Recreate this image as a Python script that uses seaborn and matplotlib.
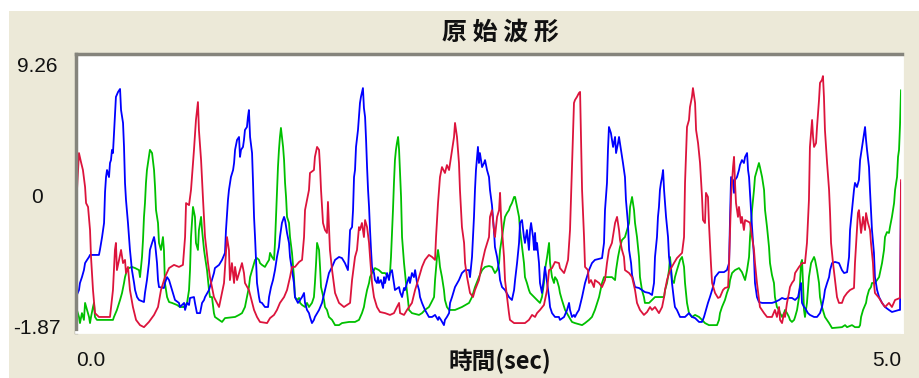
import matplotlib
matplotlib.use("Agg")
import pandas as pd
import matplotlib.pyplot as plt
import seaborn as sns
from matplotlib.patches import Rectangle

# --- data (time in sec, amplitude) ---
red_t = [
    0.000, 0.006, 0.018, 0.030, 0.042, 0.055, 0.061, 0.073, 0.085, 0.091,
    0.103, 0.115, 0.139, 0.206, 0.224, 0.236, 0.242, 0.248, 0.261, 0.273,
    0.285, 0.297, 0.303, 0.315, 0.327, 0.345, 0.364, 0.388, 0.412, 0.442,
    0.473, 0.497, 0.515, 0.539, 0.564, 0.594, 0.624, 0.648, 0.661, 0.667,
    0.685, 0.697, 0.715, 0.727, 0.739, 0.745, 0.758, 0.770, 0.782, 0.800,
    0.812, 0.836, 0.867, 0.897, 0.915, 0.927, 0.933, 0.945, 0.958, 0.964,
    0.976, 0.994, 1.006, 1.018, 1.024, 1.048, 1.079, 1.097, 1.115, 1.158,
    1.176, 1.200, 1.218, 1.236, 1.261, 1.279, 1.297, 1.309, 1.327, 1.352,
    1.370, 1.382, 1.388, 1.412, 1.418, 1.442, 1.448, 1.461, 1.473, 1.479,
    1.485, 1.497, 1.509, 1.521, 1.527, 1.533, 1.539, 1.552, 1.570, 1.594,
    1.624, 1.661, 1.673, 1.691, 1.703, 1.715, 1.721, 1.733, 1.745, 1.752,
    1.764, 1.776, 1.782, 1.794, 1.806, 1.824, 1.842, 1.873, 1.903, 1.927,
    1.945, 1.958, 1.964, 1.988, 2.006, 2.036, 2.055, 2.079, 2.097, 2.115,
    2.139, 2.158, 2.176, 2.182, 2.194, 2.206, 2.218, 2.236, 2.248, 2.261,
    2.273, 2.291, 2.297, 2.309, 2.321, 2.327, 2.339, 2.352, 2.358, 2.370,
    2.388, 2.406, 2.418, 2.442, 2.461, 2.479, 2.503, 2.509, 2.521, 2.533,
    2.539, 2.552, 2.564, 2.570, 2.576, 2.588, 2.594, 2.600, 2.612, 2.624,
    2.630, 2.655, 2.721, 2.745, 2.764, 2.782, 2.794, 2.812, 2.836, 2.855,
    2.867, 2.885, 2.903, 2.927, 2.933, 2.958, 2.964, 2.982, 2.994, 3.006,
    3.018, 3.024, 3.036, 3.048, 3.055, 3.061, 3.067, 3.079, 3.085, 3.103,
    3.109, 3.121, 3.139, 3.145, 3.170, 3.188, 3.206, 3.218, 3.230, 3.248,
    3.267, 3.279, 3.291, 3.297, 3.309, 3.321, 3.327, 3.352, 3.370, 3.388,
    3.400, 3.418, 3.442, 3.461, 3.479, 3.491, 3.509, 3.533, 3.552, 3.564,
    3.570, 3.582, 3.600, 3.624, 3.642, 3.661, 3.673, 3.685, 3.691, 3.703,
    3.715, 3.721, 3.733, 3.739, 3.752, 3.758, 3.770, 3.782, 3.794, 3.800,
    3.812, 3.818, 3.830, 3.836, 3.848, 3.855, 3.873, 3.891, 3.903, 3.921,
    3.933, 3.952, 3.958, 3.970, 3.982, 3.988, 3.994, 4.000, 4.012, 4.018,
    4.030, 4.036, 4.048, 4.055, 4.079, 4.085, 4.097, 4.109, 4.115, 4.127,
    4.145, 4.170, 4.188, 4.218, 4.236, 4.248, 4.261, 4.267, 4.279, 4.291,
    4.297, 4.309, 4.321, 4.327, 4.339, 4.352, 4.358, 4.382, 4.400, 4.418,
    4.430, 4.442, 4.448, 4.461, 4.467, 4.473, 4.485, 4.491, 4.503, 4.509,
    4.521, 4.527, 4.533, 4.539, 4.552, 4.564, 4.570, 4.576, 4.588, 4.600,
    4.612, 4.624, 4.642, 4.655, 4.673, 4.691, 4.715, 4.721, 4.739, 4.745,
    4.758, 4.770, 4.782, 4.788, 4.800, 4.812, 4.818, 4.830, 4.836, 4.842,
    4.867, 4.885, 4.903, 4.927, 4.945, 4.964, 4.994, 5.000,
]
red_v = [
    0.92, 4.23, 5.86, 5.47, 5.11, 4.36, 3.65, 3.48, 2.46, 1.27,
    -0.19, -1.21, -1.38, -1.38, -0.19, 1.58, 1.89, 0.69, 1.14, 1.58,
    1.00, 1.14, 0.56, 0.83, -0.19, -0.94, -1.51, -1.74, -1.83, -1.60,
    -1.29, -0.94, -0.19, 0.38, 0.78, 0.92, 0.83, 0.92, 2.15, 3.65,
    3.56, 4.23, 6.00, 7.32, 8.11, 6.88, 5.55, 3.79, 2.15, 1.00,
    0.38, -0.50, -0.94, 0.12, 2.15, 1.58, 0.25, 1.00, 0.12, 0.83,
    0.25, 0.69, 1.00, 0.56, 0.12, -0.19, -1.07, -1.38, -1.60, -1.65,
    -1.43, -1.29, -1.07, -0.76, -0.50, -0.19, 0.38, 0.83, 0.83, 1.05,
    1.14, 2.15, 3.34, 4.23, 4.98, 5.11, 5.69, 6.13, 6.00, 5.24,
    4.23, 2.77, 2.46, 2.33, 3.70, 2.59, 1.58, 0.69, -0.32, -0.76,
    -0.94, -0.76, 0.25, 1.27, 1.58, 2.59, 2.46, 2.77, 2.15, 2.90,
    2.59, 1.89, 1.27, 0.12, -0.50, -0.94, -1.16, -1.21, -1.29, -1.21,
    -0.94, -0.76, -1.21, -1.29, -1.07, -0.76, -0.19, 0.38, 0.83, 1.14,
    1.36, 1.27, 1.14, 2.15, 3.65, 4.80, 5.24, 4.98, 5.33, 5.11,
    5.69, 6.57, 7.19, 6.57, 5.42, 4.23, 2.59, 1.89, 1.00, 0.38,
    -0.32, -0.50, -0.19, 0.25, 1.00, 1.58, 2.15, 3.04, 3.34, 2.46,
    2.15, 3.04, 3.34, 4.10, 3.04, 1.89, 1.27, 0.25, -0.50, -1.21,
    -1.51, -1.65, -1.65, -1.51, -1.29, -1.38, -1.21, -1.07, -0.85, -0.19,
    0.69, 0.78, 1.05, 1.00, 0.78, 0.56, 0.69, 1.14, 2.46, 5.24,
    8.07, 8.20, 8.34, 8.51, 8.56, 6.44, 4.23, 2.15, 0.83, 0.69,
    0.12, 0.25, -0.06, 0.25, 0.12, -0.06, 0.25, 1.00, 1.58, 1.89,
    2.77, 3.04, 2.46, 2.02, 1.58, 1.27, 0.69, 0.56, 0.38, -0.19,
    -0.76, -1.07, -1.29, -1.16, -0.94, -1.07, -0.94, -1.21, -0.94, -0.50,
    -0.19, 0.25, 0.69, 1.00, 1.22, 1.36, 1.45, 2.15, 4.54, 7.01,
    7.32, 7.89, 8.34, 8.73, 8.07, 6.88, 6.30, 5.42, 3.92, 2.90,
    2.77, 4.10, 3.92, 2.77, 1.00, 0.12, -0.32, -0.54, -0.50, -0.19,
    -0.10, -0.06, 1.00, 3.92, 5.24, 5.69, 4.54, 3.65, 3.04, 3.48,
    2.77, 3.04, 2.46, 2.90, 2.81, 2.77, 2.15, 1.58, 1.00, 0.12,
    -0.94, -1.21, -1.38, -1.38, -1.07, -1.38, -0.94, -1.51, -1.65, -1.21,
    -1.38, -0.76, -0.32, -0.06, 0.12, 0.25, 0.56, 0.83, 1.00, 1.00,
    1.89, 3.79, 6.13, 7.32, 6.57, 6.13, 6.30, 7.01, 8.20, 8.96,
    9.09, 9.26, 8.34, 6.88, 5.42, 4.23, 3.21, 1.89, 1.00, 0.25,
    -0.50, -0.76, -0.76, -0.50, -0.32, -0.19, -0.10, 1.00, 3.21, 3.34,
    2.33, 3.04, 2.46, 3.21, 2.77, 2.46, 1.89, 1.00, 0.12, -0.32,
    -0.54, -0.76, -0.94, -0.76, -0.94, -0.63, -0.54, 4.67,
]

blue_t = [
    0.000, 0.018, 0.024, 0.036, 0.048, 0.055, 0.067, 0.079, 0.085, 0.139,
    0.145, 0.158, 0.170, 0.176, 0.182, 0.188, 0.200, 0.206, 0.212, 0.218,
    0.224, 0.230, 0.236, 0.242, 0.255, 0.267, 0.273, 0.285, 0.291, 0.297,
    0.303, 0.315, 0.321, 0.327, 0.339, 0.352, 0.358, 0.370, 0.382, 0.412,
    0.418, 0.430, 0.442, 0.448, 0.461, 0.473, 0.479, 0.491, 0.497, 0.503,
    0.533, 0.539, 0.552, 0.564, 0.582, 0.600, 0.624, 0.630, 0.655, 0.661,
    0.673, 0.685, 0.691, 0.715, 0.721, 0.733, 0.752, 0.764, 0.776, 0.782,
    0.806, 0.824, 0.836, 0.842, 0.867, 0.885, 0.903, 0.909, 0.921, 0.927,
    0.939, 0.952, 0.958, 0.964, 0.976, 0.988, 0.994, 1.000, 1.012, 1.018,
    1.024, 1.036, 1.042, 1.048, 1.055, 1.067, 1.073, 1.079, 1.085, 1.091,
    1.097, 1.109, 1.115, 1.127, 1.145, 1.164, 1.170, 1.182, 1.194, 1.206,
    1.218, 1.230, 1.236, 1.248, 1.261, 1.267, 1.279, 1.291, 1.297, 1.309,
    1.321, 1.327, 1.345, 1.358, 1.370, 1.382, 1.388, 1.400, 1.412, 1.418,
    1.430, 1.442, 1.448, 1.473, 1.491, 1.509, 1.533, 1.552, 1.570, 1.594,
    1.612, 1.630, 1.648, 1.655, 1.661, 1.673, 1.679, 1.685, 1.691, 1.697,
    1.709, 1.715, 1.721, 1.727, 1.739, 1.745, 1.752, 1.758, 1.764, 1.770,
    1.776, 1.782, 1.788, 1.794, 1.806, 1.812, 1.824, 1.830, 1.836, 1.848,
    1.861, 1.867, 1.873, 1.885, 1.897, 1.903, 1.915, 1.927, 1.933, 1.958,
    1.964, 1.976, 1.988, 1.994, 2.006, 2.018, 2.024, 2.036, 2.048, 2.055,
    2.067, 2.079, 2.085, 2.097, 2.115, 2.139, 2.158, 2.176, 2.194, 2.200,
    2.212, 2.230, 2.236, 2.248, 2.261, 2.267, 2.279, 2.297, 2.321, 2.339,
    2.358, 2.382, 2.388, 2.400, 2.412, 2.418, 2.424, 2.436, 2.442, 2.448,
    2.461, 2.473, 2.479, 2.491, 2.503, 2.509, 2.521, 2.533, 2.539, 2.552,
    2.564, 2.570, 2.582, 2.600, 2.624, 2.642, 2.655, 2.661, 2.673, 2.685,
    2.691, 2.703, 2.715, 2.721, 2.733, 2.745, 2.752, 2.758, 2.770, 2.776,
    2.782, 2.788, 2.794, 2.806, 2.812, 2.824, 2.836, 2.842, 2.855, 2.867,
    2.873, 2.885, 2.903, 2.927, 2.933, 2.958, 2.976, 2.988, 2.994, 3.006,
    3.018, 3.024, 3.036, 3.048, 3.067, 3.085, 3.109, 3.127, 3.145, 3.188,
    3.200, 3.206, 3.218, 3.224, 3.230, 3.242, 3.255, 3.267, 3.273, 3.285,
    3.291, 3.303, 3.315, 3.327, 3.333, 3.345, 3.352, 3.364, 3.370, 3.382,
    3.388, 3.412, 3.430, 3.448, 3.473, 3.491, 3.503, 3.509, 3.521, 3.527,
    3.533, 3.539, 3.545, 3.552, 3.558, 3.564, 3.570, 3.576, 3.588, 3.594,
    3.606, 3.612, 3.624, 3.630, 3.642, 3.661, 3.691, 3.715, 3.733, 3.752,
    3.776, 3.794, 3.806, 3.818, 3.830, 3.842, 3.855, 3.867, 3.873, 3.897,
    3.927, 3.945, 3.958, 3.964, 3.970, 3.982, 3.988, 3.994, 4.006, 4.018,
    4.024, 4.036, 4.048, 4.055, 4.067, 4.073, 4.079, 4.091, 4.097, 4.109,
    4.115, 4.127, 4.139, 4.158, 4.218, 4.236, 4.261, 4.279, 4.297, 4.321,
    4.339, 4.358, 4.376, 4.388, 4.394, 4.400, 4.412, 4.418, 4.436, 4.448,
    4.473, 4.491, 4.509, 4.521, 4.533, 4.539, 4.552, 4.564, 4.570, 4.582,
    4.600, 4.624, 4.642, 4.655, 4.673, 4.685, 4.691, 4.703, 4.715, 4.721,
    4.733, 4.745, 4.752, 4.764, 4.776, 4.782, 4.788, 4.794, 4.806, 4.812,
    4.824, 4.836, 4.842, 4.855, 4.867, 4.885, 4.903, 4.927, 4.945, 4.988,
    4.994, 5.000,
]
blue_v = [
    -0.50, -0.19, 0.12, 0.38, 0.69, 1.00, 1.14, 1.27, 1.36, 1.36,
    1.58, 2.15, 2.77, 4.14, 4.80, 5.11, 4.80, 5.42, 5.55, 6.00,
    5.86, 6.66, 7.45, 8.34, 8.56, 8.69, 7.76, 7.19, 6.13, 4.54,
    3.79, 2.77, 2.15, 1.58, 0.69, 0.12, -0.19, -0.50, -0.63, -0.72,
    -0.32, 0.25, 1.00, 1.58, 1.89, 2.15, 1.89, 1.00, 0.25, -0.06,
    -0.10, 0.12, 0.38, 0.25, -0.19, -0.63, -0.76, -0.94, -0.76, -1.07,
    -0.76, -0.85, -0.54, -0.50, -0.76, -1.21, -1.21, -0.76, -0.63, -0.50,
    -0.19, 0.25, 0.56, 0.78, 0.92, 1.14, 1.45, 2.46, 3.79, 4.23,
    4.80, 5.11, 5.42, 6.00, 6.44, 6.57, 5.69, 6.00, 6.13, 6.44,
    6.88, 7.01, 7.45, 7.76, 6.57, 5.86, 4.54, 3.04, 2.15, 1.14,
    0.12, -0.50, -0.72, -0.76, -0.94, -0.94, -0.50, -0.06, 0.25, 0.69,
    1.27, 1.71, 2.15, 2.77, 3.04, 2.90, 2.33, 1.89, 1.27, 0.69,
    0.12, -0.50, -0.76, -0.63, -0.50, -0.32, -0.76, -1.07, -1.21, -1.38,
    -1.65, -1.51, -1.38, -1.07, -0.76, -0.19, 0.56, 0.83, 1.14, 1.27,
    1.22, 1.00, 0.69, 1.58, 2.46, 2.59, 3.34, 4.80, 5.11, 6.13,
    6.88, 7.45, 8.07, 8.34, 8.73, 7.85, 7.45, 6.44, 5.24, 4.23,
    3.48, 2.46, 1.58, 0.83, 0.56, 0.25, 0.12, 0.38, 0.12, 0.25,
    -0.10, 0.38, 0.12, 0.56, 0.25, 0.56, 0.69, 0.12, -0.19, -0.06,
    -0.28, -0.50, -0.10, -0.19, 0.12, 0.38, 0.12, 0.56, 0.38, 0.69,
    0.12, -0.19, -0.50, -0.76, -1.07, -1.38, -1.38, -1.29, -1.51, -1.38,
    -1.51, -1.74, -1.51, -1.38, -1.21, -0.76, -0.50, -0.06, 0.25, 0.56,
    0.69, 0.69, 0.38, 1.27, 3.04, 4.23, 5.11, 6.13, 5.42, 5.86,
    5.24, 5.42, 5.55, 5.11, 4.80, 4.23, 3.56, 2.46, 1.71, 1.27,
    0.69, 0.25, -0.06, -0.19, -0.50, -0.63, -0.19, 0.25, 1.00, 1.89,
    2.77, 2.90, 2.15, 1.89, 2.46, 1.58, 2.46, 2.77, 2.15, 1.58,
    2.33, 1.58, 1.89, 1.00, 0.12, -0.32, 0.38, 0.83, 0.12, -0.50,
    -0.94, -1.21, -1.38, -1.38, -1.51, -1.38, -1.07, -0.76, -1.07, -1.38,
    -1.29, -1.38, -1.21, -1.07, -0.50, 0.12, 0.69, 1.00, 1.14, 1.22,
    1.89, 3.34, 4.54, 6.00, 7.01, 6.74, 6.13, 6.57, 5.86, 6.30,
    6.57, 6.00, 5.42, 4.80, 3.79, 2.77, 1.58, 1.00, 0.47, 0.12,
    -0.06, -0.10, -0.19, -0.28, -0.32, -0.41, 0.12, 1.27, 2.15, 3.04,
    3.48, 4.23, 4.54, 4.80, 5.11, 4.23, 3.65, 3.04, 2.15, 1.27,
    0.69, 0.12, -0.63, -0.94, -1.07, -1.38, -1.38, -1.21, -1.38, -1.43,
    -1.60, -1.60, -1.38, -1.07, -0.76, -0.50, -0.19, 0.12, 0.38, 0.60,
    0.60, 0.69, 1.00, 3.04, 4.80, 4.67, 4.10, 4.67, 4.80, 5.11,
    5.33, 5.55, 5.42, 5.69, 5.86, 5.11, 4.80, 3.34, 2.59, 1.27,
    0.12, -0.50, -0.72, -0.76, -0.76, -0.72, -0.63, -0.54, -0.59, -0.54,
    -0.54, -0.63, -0.50, -0.06, 0.12, -0.76, -0.94, -0.98, -1.21, -1.29,
    -1.38, -1.38, -1.21, -0.94, -0.50, -0.19, 0.12, 0.38, 0.69, 1.00,
    1.05, 1.00, 0.69, 0.56, 0.60, 1.27, 2.46, 3.34, 4.23, 4.54,
    4.36, 4.67, 5.55, 6.13, 6.74, 7.01, 6.44, 6.00, 5.24, 4.23,
    2.46, 1.45, 0.38, -0.19, -0.50, -0.76, -0.94, -1.07, -1.16, -1.07,
    -1.07, 4.54,
]

green_t = [
    0.000, 0.018, 0.024, 0.036, 0.048, 0.055, 0.067, 0.079, 0.085, 0.091,
    0.103, 0.109, 0.115, 0.127, 0.224, 0.230, 0.248, 0.267, 0.279, 0.291,
    0.297, 0.309, 0.321, 0.339, 0.358, 0.382, 0.388, 0.400, 0.406, 0.412,
    0.418, 0.424, 0.430, 0.442, 0.448, 0.461, 0.473, 0.479, 0.485, 0.497,
    0.503, 0.515, 0.527, 0.533, 0.539, 0.552, 0.564, 0.582, 0.612, 0.630,
    0.655, 0.673, 0.685, 0.691, 0.697, 0.709, 0.721, 0.727, 0.739, 0.745,
    0.758, 0.764, 0.776, 0.782, 0.794, 0.806, 0.812, 0.824, 0.836, 0.842,
    0.867, 0.885, 0.903, 0.964, 0.988, 1.006, 1.024, 1.036, 1.048, 1.055,
    1.067, 1.079, 1.085, 1.097, 1.109, 1.115, 1.127, 1.145, 1.158, 1.170,
    1.176, 1.188, 1.200, 1.206, 1.212, 1.218, 1.224, 1.230, 1.236, 1.242,
    1.255, 1.261, 1.267, 1.273, 1.279, 1.291, 1.297, 1.309, 1.321, 1.327,
    1.339, 1.352, 1.358, 1.370, 1.388, 1.400, 1.412, 1.430, 1.442, 1.448,
    1.455, 1.461, 1.473, 1.479, 1.485, 1.503, 1.509, 1.521, 1.533, 1.552,
    1.570, 1.594, 1.612, 1.655, 1.691, 1.715, 1.733, 1.745, 1.752, 1.764,
    1.776, 1.782, 1.794, 1.806, 1.812, 1.836, 1.855, 1.873, 1.897, 1.903,
    1.909, 1.921, 1.927, 1.933, 1.939, 1.945, 1.952, 1.958, 1.964, 1.970,
    1.976, 1.988, 1.994, 2.000, 2.012, 2.018, 2.036, 2.079, 2.097, 2.115,
    2.139, 2.152, 2.170, 2.176, 2.188, 2.194, 2.200, 2.206, 2.218, 2.230,
    2.236, 2.248, 2.261, 2.297, 2.339, 2.382, 2.400, 2.418, 2.442, 2.461,
    2.479, 2.503, 2.521, 2.539, 2.552, 2.564, 2.570, 2.582, 2.594, 2.600,
    2.612, 2.624, 2.630, 2.642, 2.655, 2.661, 2.673, 2.685, 2.691, 2.703,
    2.715, 2.721, 2.733, 2.745, 2.752, 2.776, 2.794, 2.812, 2.824, 2.836,
    2.842, 2.855, 2.867, 2.873, 2.885, 2.897, 2.903, 2.915, 2.927, 2.933,
    2.945, 2.964, 2.988, 3.006, 3.024, 3.067, 3.085, 3.109, 3.127, 3.145,
    3.170, 3.188, 3.200, 3.248, 3.267, 3.273, 3.285, 3.297, 3.309, 3.327,
    3.352, 3.358, 3.370, 3.382, 3.388, 3.400, 3.412, 3.418, 3.430, 3.442,
    3.448, 3.473, 3.491, 3.509, 3.564, 3.570, 3.582, 3.594, 3.600, 3.606,
    3.612, 3.624, 3.630, 3.642, 3.655, 3.661, 3.673, 3.685, 3.691, 3.703,
    3.715, 3.733, 3.752, 3.776, 3.794, 3.812, 3.836, 3.885, 3.897, 3.903,
    3.915, 3.933, 3.945, 3.958, 3.964, 3.976, 3.994, 4.018, 4.036, 4.048,
    4.055, 4.067, 4.079, 4.085, 4.097, 4.109, 4.115, 4.127, 4.139, 4.145,
    4.158, 4.170, 4.176, 4.188, 4.200, 4.206, 4.218, 4.230, 4.236, 4.248,
    4.261, 4.267, 4.279, 4.291, 4.297, 4.309, 4.321, 4.327, 4.339, 4.352,
    4.358, 4.370, 4.382, 4.388, 4.394, 4.400, 4.406, 4.412, 4.418, 4.424,
    4.430, 4.436, 4.442, 4.455, 4.473, 4.479, 4.491, 4.503, 4.509, 4.521,
    4.539, 4.564, 4.582, 4.642, 4.661, 4.673, 4.703, 4.721, 4.745, 4.752,
    4.758, 4.770, 4.788, 4.794, 4.806, 4.818, 4.824, 4.842, 4.867, 4.885,
    4.897, 4.903, 4.915, 4.927, 4.933, 4.945, 4.958, 4.964, 4.976, 4.982,
    4.988, 4.994, 5.000,
]
green_v = [
    -0.94, -1.38, -1.65, -1.21, -1.51, -0.76, -1.07, -1.38, -1.65, -1.38,
    -0.94, -0.76, -1.38, -1.51, -1.51, -1.38, -1.07, -0.63, -0.32, 0.12,
    0.38, 0.69, 0.78, 0.83, 0.78, 0.69, 0.38, 1.27, 2.02, 3.04,
    3.65, 4.54, 5.11, 5.69, 6.00, 5.86, 5.11, 4.36, 3.34, 2.77,
    1.89, 1.58, 2.15, 1.58, 0.12, -0.50, -0.72, -0.76, -0.85, -0.94,
    -0.94, -0.76, -0.19, 0.69, 2.15, 3.48, 3.04, 1.89, 1.58, 2.46,
    3.04, 2.46, 1.58, 1.27, 0.69, -0.19, -0.50, -0.50, -1.21, -1.38,
    -1.51, -1.60, -1.43, -1.38, -1.29, -1.21, -0.94, -0.50, -0.06, 0.38,
    0.69, 1.00, 1.14, 1.22, 1.14, 1.00, 0.92, 0.83, 1.00, 1.14,
    1.45, 1.27, 1.14, 1.89, 3.04, 4.10, 5.24, 6.00, 6.57, 6.97,
    6.13, 5.55, 4.54, 3.92, 3.04, 2.77, 2.15, 1.45, 0.38, -0.50,
    -0.63, -0.54, -0.76, -0.85, -0.94, -0.76, -0.94, -0.76, -0.50, 0.12,
    1.00, 1.89, 1.58, 0.83, -0.06, -0.63, -0.94, -1.07, -1.38, -1.51,
    -1.74, -1.74, -1.65, -1.60, -1.60, -1.51, -1.21, -0.94, -0.63, -0.19,
    0.12, 0.38, 0.56, 0.69, 0.78, 0.69, 0.56, 0.56, 0.38, 0.56,
    1.27, 3.34, 4.54, 5.55, 6.00, 6.30, 6.57, 6.00, 4.98, 3.92,
    2.15, 1.00, 0.56, 0.12, -0.63, -1.07, -1.21, -1.29, -1.21, -1.07,
    -0.94, -0.76, -0.50, 0.25, 1.27, 1.58, 1.27, 0.83, 0.38, -0.19,
    -0.63, -0.94, -1.07, -1.07, -0.94, -0.76, -0.50, -0.06, 0.38, 0.69,
    0.83, 0.87, 0.83, 0.56, 0.69, 1.00, 1.58, 2.15, 2.77, 3.04,
    3.21, 3.34, 3.48, 3.65, 3.92, 3.92, 3.48, 3.04, 2.46, 1.71,
    1.00, 0.38, 0.12, -0.19, -0.32, -0.50, -0.63, -0.76, -0.50, 0.12,
    0.69, 1.27, 1.89, 1.00, 0.38, 0.12, 0.38, 0.25, -0.06, -0.32,
    -0.63, -1.07, -1.38, -1.60, -1.65, -1.74, -1.65, -1.51, -1.38, -1.07,
    -0.50, 0.12, 0.38, 0.38, 0.25, 0.69, 1.27, 1.71, 2.02, 2.15,
    2.77, 3.48, 3.92, 3.34, 2.77, 2.15, 1.27, 0.38, -0.19, -0.50,
    -0.76, -0.76, -0.63, -0.50, -0.50, -0.19, 0.12, 0.69, 1.27, 0.83,
    0.25, 0.12, 0.38, 0.69, 1.00, 1.14, 1.27, 0.83, 0.12, -0.76,
    -1.21, -1.38, -1.29, -1.38, -1.51, -1.65, -1.74, -1.74, -1.51, -1.21,
    -0.94, -0.63, -0.32, -0.06, 0.25, 0.56, 0.69, 0.78, 0.60, 0.38,
    0.25, 0.69, 1.27, 2.15, 3.34, 4.23, 4.80, 5.11, 5.42, 5.24,
    4.80, 4.23, 3.34, 2.59, 1.71, 1.00, 0.47, 0.12, -0.50, -0.94,
    -1.07, -1.21, -1.38, -1.21, -1.07, -1.21, -1.38, -1.51, -1.60, -1.51,
    -1.38, -1.07, -0.50, 0.12, 1.00, 1.14, 0.12, -1.07, -1.38, -1.07,
    -0.76, -0.19, 0.38, 1.00, 1.27, 1.14, 0.69, 0.12, -0.50, -0.94,
    -1.38, -1.65, -1.87, -1.83, -1.74, -1.83, -1.74, -1.83, -1.83, -1.74,
    -1.38, -1.07, -0.76, -0.50, -0.19, -0.06, 0.12, 0.12, 0.38, 1.00,
    1.58, 2.15, 2.37, 2.33, 2.59, 3.04, 3.65, 4.23, 4.80, 5.69,
    6.00, 7.10, 8.64,
]

channels = ["green", "blue", "red"]
colors = {"red": "#DC143C", "blue": "#0000FF", "green": "#00C000"}

title_text = "原 始 波 形"
xlabel_text = "時間(sec)"
ytick_pos = [-1.78, 4.0, 9.75]
ytick_labels = ["-1.87", "0", "9.26"]
xtick_labels = ["0.0", "5.0"]

df = pd.concat([
    pd.DataFrame({"t": green_t, "v": green_v, "ch": "green"}),
    pd.DataFrame({"t": blue_t, "v": blue_v, "ch": "blue"}),
    pd.DataFrame({"t": red_t, "v": red_v, "ch": "red"}),
], ignore_index=True)

sns.set_style("white")
plt.rcParams["font.family"] = ["Liberation Sans", "DejaVu Sans"]
cjk = ["Noto Sans CJK TC", "DejaVu Sans"]

W, H = 920, 378
fig = plt.figure(figsize=(W / 100, H / 100), dpi=100, facecolor="white")
# beige window panel (white strip on top / left like the screenshot)
fig.patches.append(Rectangle((9 / W, 0), 1, 367 / H, transform=fig.transFigure,
                             facecolor="#ECE9D8", edgecolor="none", zorder=-10))

ax = fig.add_axes([76 / W, 46 / H, 826 / W, 278 / H])
ax.set_zorder(5)
ax.set_facecolor("white")

sns.lineplot(data=df, x="t", y="v", hue="ch", hue_order=channels, palette=colors,
             estimator=None, sort=False, legend=False, linewidth=1.3, ax=ax)

ax.set_xlim(0, 5.006)
ax.set_ylim(-2.044, 10.235)

ax.set_yticks(ytick_pos, labels=ytick_labels)
ax.set_xticks([0, 5], labels=xtick_labels)
ax.tick_params(axis="y", length=0, pad=28, labelsize=15, colors="#111111")
ax.tick_params(axis="x", length=0, pad=14, labelsize=15, colors="#111111")
for lbl in ax.get_yticklabels():
    lbl.set_ha("center")
xl = ax.get_xticklabels()
xl[0].set_ha("left")
xl[1].set_ha("right")

ax.set_xlabel(xlabel_text, fontsize=17, fontweight="bold", family=cjk, color="#111111")
ax.xaxis.set_label_coords((500 - 76) / 826, (332 - 361) / 278)
ax.xaxis.label.set_va("center")
ax.set_ylabel("")

# sunken 3D frame
for side in ["top", "left"]:
    ax.spines[side].set_color("#85847c")
    ax.spines[side].set_linewidth(2.5)
for side in ["bottom", "right"]:
    ax.spines[side].set_color("#ffffff")
    ax.spines[side].set_linewidth(2.0)

fig.text(500 / W, 1 - 33 / H, title_text, ha="center", va="center",
         fontsize=18, fontweight="bold", family=cjk, color="#111111")

fig.savefig("out.png", dpi=100, facecolor=fig.get_facecolor())
